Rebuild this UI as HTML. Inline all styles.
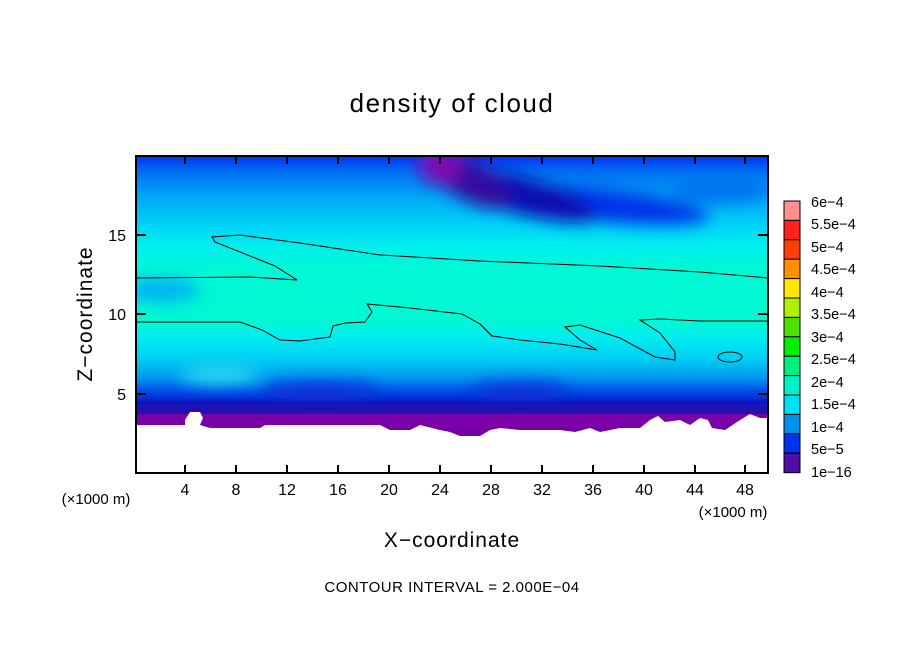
<!DOCTYPE html>
<html><head><meta charset="utf-8"><style>
html,body{margin:0;padding:0;background:#fff;}
svg text{font-family:"Liberation Sans",sans-serif;fill:#000;}
</style></head><body>
<svg width="904" height="654" viewBox="0 0 904 654" xmlns="http://www.w3.org/2000/svg">
<defs>
<linearGradient id="bg" x1="0" y1="156" x2="0" y2="473" gradientUnits="userSpaceOnUse">
<stop offset="0" stop-color="#0a30f0"/>
<stop offset="0.05" stop-color="#0070f2"/>
<stop offset="0.13" stop-color="#00a8f4"/>
<stop offset="0.22" stop-color="#00d4f8"/>
<stop offset="0.29" stop-color="#00f0ec"/>
<stop offset="0.36" stop-color="#00f8d4"/>
<stop offset="0.52" stop-color="#00f8d2"/>
<stop offset="0.57" stop-color="#00eef0"/>
<stop offset="0.64" stop-color="#00cef2"/>
<stop offset="0.70" stop-color="#0098f0"/>
<stop offset="0.74" stop-color="#0050e8"/>
<stop offset="0.78" stop-color="#0818c8"/>
<stop offset="0.81" stop-color="#2010b0"/>
<stop offset="0.84" stop-color="#7000a8"/>
<stop offset="1" stop-color="#7a00a8"/>
</linearGradient>
<filter id="bl" x="-50%" y="-50%" width="200%" height="200%"><feGaussianBlur stdDeviation="8"/></filter>
<filter id="bl2" x="-50%" y="-50%" width="200%" height="200%"><feGaussianBlur stdDeviation="4"/></filter>
<clipPath id="cp"><rect x="136" y="156" width="632" height="317"/></clipPath>
</defs>
<g clip-path="url(#cp)">
<rect x="136" y="156" width="632" height="317" fill="url(#bg)"/>
<g filter="url(#bl)">
<ellipse cx="600" cy="205" rx="110" ry="16" fill="#0030e8" transform="rotate(6 600 205)"/>
<ellipse cx="520" cy="195" rx="80" ry="18" fill="#0810b0" transform="rotate(15 520 195)"/>
<ellipse cx="470" cy="180" rx="45" ry="20" fill="#3010a0" transform="rotate(30 470 180)"/>
<ellipse cx="440" cy="165" rx="22" ry="20" fill="#7a08b0"/>
<ellipse cx="720" cy="190" rx="50" ry="12" fill="#0070f0"/>
<ellipse cx="160" cy="290" rx="40" ry="12" fill="#00b0f4"/>
<ellipse cx="220" cy="375" rx="40" ry="8" fill="#30e0f0"/>
<ellipse cx="320" cy="392" rx="60" ry="10" fill="#1030d8"/>
<ellipse cx="520" cy="392" rx="50" ry="10" fill="#1030d8"/>
</g>
<g filter="url(#bl2)">
<rect x="136" y="404" width="632" height="10" fill="#2010b0"/>
</g>
<polygon fill="#7a00a8" points="136,414 768,414 768,428 136,428"/>
<polygon fill="#fff" points="136,425 185,425 185,420 190,412 200,412 203,418 200,425 210,428 260,428 265,425 380,425 390,430 410,430 420,425 440,430 450,432 460,436 480,436 490,430 500,428 520,430 560,430 575,432 590,428 600,432 620,428 640,428 650,420 658,416 665,422 680,420 690,425 700,418 708,420 712,428 725,430 740,420 750,414 760,418 768,418 768,473 136,473"/>
<path fill="none" stroke="#000" stroke-width="1" d="M136,278 L250,277 L297,280 L275,266 L215,242 L212,237 L240,235 L300,243 L380,255 L480,261 L600,266 L700,272 L768,278"/>
<path fill="none" stroke="#000" stroke-width="1" d="M136,322 L240,322 L262,330 L280,340 L300,341 L330,337 L333,326 L345,323 L365,322 L372,312 L367,304 L410,308 L462,314 L480,324 L492,336 L520,340 L560,344 L597,350 L580,340 L565,327 L580,325 L620,338 L655,357 L675,360 L675,352 L660,333 L640,320 L660,319 L700,321 L768,321"/>
<ellipse cx="730" cy="357" rx="12" ry="5" fill="none" stroke="#000"/>
</g>
<rect x="136" y="156" width="632" height="317" fill="none" stroke="#000" stroke-width="2"/>
<g stroke="#000" stroke-width="2">
<line x1="185" y1="473" x2="185" y2="465"/><line x1="236" y1="473" x2="236" y2="465"/><line x1="287" y1="473" x2="287" y2="465"/><line x1="338" y1="473" x2="338" y2="465"/><line x1="389" y1="473" x2="389" y2="465"/><line x1="440" y1="473" x2="440" y2="465"/><line x1="491" y1="473" x2="491" y2="465"/><line x1="542" y1="473" x2="542" y2="465"/><line x1="593" y1="473" x2="593" y2="465"/><line x1="644" y1="473" x2="644" y2="465"/><line x1="695" y1="473" x2="695" y2="465"/><line x1="745" y1="473" x2="745" y2="465"/>
<line x1="185" y1="156" x2="185" y2="164"/><line x1="236" y1="156" x2="236" y2="164"/><line x1="287" y1="156" x2="287" y2="164"/><line x1="338" y1="156" x2="338" y2="164"/><line x1="389" y1="156" x2="389" y2="164"/><line x1="440" y1="156" x2="440" y2="164"/><line x1="491" y1="156" x2="491" y2="164"/><line x1="542" y1="156" x2="542" y2="164"/><line x1="593" y1="156" x2="593" y2="164"/><line x1="644" y1="156" x2="644" y2="164"/><line x1="695" y1="156" x2="695" y2="164"/><line x1="745" y1="156" x2="745" y2="164"/>
<line x1="136" y1="394" x2="146" y2="394"/><line x1="136" y1="314" x2="146" y2="314"/><line x1="136" y1="235" x2="146" y2="235"/>
<line x1="768" y1="394" x2="758" y2="394"/><line x1="768" y1="314" x2="758" y2="314"/><line x1="768" y1="235" x2="758" y2="235"/>
</g>
<text x="452" y="112" font-size="26" text-anchor="middle" letter-spacing="1.5">density of cloud</text>
<g font-size="16" text-anchor="middle">
<text x="185" y="495">4</text><text x="236" y="495">8</text><text x="287" y="495">12</text><text x="338" y="495">16</text><text x="389" y="495">20</text><text x="440" y="495">24</text><text x="491" y="495">28</text><text x="542" y="495">32</text><text x="593" y="495">36</text><text x="644" y="495">40</text><text x="695" y="495">44</text><text x="745" y="495">48</text>
</g>
<g font-size="16" text-anchor="end">
<text x="126" y="400">5</text><text x="126" y="320">10</text><text x="126" y="241">15</text>
</g>
<text x="96" y="504" font-size="15" text-anchor="middle">(×1000 m)</text>
<text x="733" y="517" font-size="15" text-anchor="middle">(×1000 m)</text>
<text x="452" y="547" font-size="21" text-anchor="middle" letter-spacing="1">X−coordinate</text>
<text x="0" y="0" font-size="21" text-anchor="middle" transform="translate(92,314) rotate(-90)" letter-spacing="1">Z−coordinate</text>
<text x="452" y="592" font-size="15" text-anchor="middle" letter-spacing="0.5">CONTOUR INTERVAL = 2.000E−04</text>
<g stroke="#000" stroke-width="1">
<rect x="784" y="201" width="16" height="19.4" fill="#ff9090"/>
<rect x="784" y="220.4" width="16" height="19.4" fill="#ff2020"/>
<rect x="784" y="239.8" width="16" height="19.4" fill="#ff4000"/>
<rect x="784" y="259.2" width="16" height="19.4" fill="#ff9000"/>
<rect x="784" y="278.6" width="16" height="19.4" fill="#ffe800"/>
<rect x="784" y="298" width="16" height="19.4" fill="#b0f000"/>
<rect x="784" y="317.4" width="16" height="19.4" fill="#50e000"/>
<rect x="784" y="336.8" width="16" height="19.4" fill="#00f000"/>
<rect x="784" y="356.2" width="16" height="19.4" fill="#00f080"/>
<rect x="784" y="375.6" width="16" height="19.4" fill="#00f0c8"/>
<rect x="784" y="395" width="16" height="19.4" fill="#00e0f8"/>
<rect x="784" y="414.4" width="16" height="19.4" fill="#0090f0"/>
<rect x="784" y="433.8" width="16" height="19.4" fill="#0030f0"/>
<rect x="784" y="453.2" width="16" height="19.4" fill="#0010c0"/>
</g>
<rect x="784" y="453.2" width="16" height="19.4" fill="#5010a8" stroke="#000"/>
<g font-size="14.5">
<text x="811" y="207">6e−4</text><text x="811" y="229">5.5e−4</text><text x="811" y="252">5e−4</text><text x="811" y="274">4.5e−4</text><text x="811" y="297">4e−4</text><text x="811" y="319">3.5e−4</text><text x="811" y="342">3e−4</text><text x="811" y="364">2.5e−4</text><text x="811" y="387">2e−4</text><text x="811" y="409">1.5e−4</text><text x="811" y="432">1e−4</text><text x="811" y="454">5e−5</text><text x="811" y="477">1e−16</text>
</g>
</svg>
</body></html>
